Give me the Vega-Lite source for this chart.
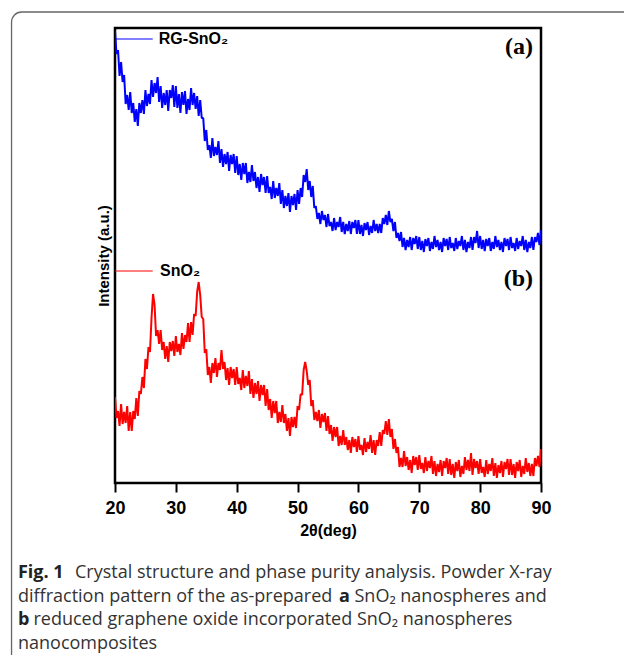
{
"$schema": "https://vega.github.io/schema/vega-lite/v6.json",
"width": 426, "height": 455,
"autosize": {"type": "none"},
"padding": {"left": 115, "top": 28, "right": 83, "bottom": 172},
"background": "white",
"config": {"view": {"stroke": "black", "strokeWidth": 2.5}, "font": "Liberation Sans"},
"datasets": {"xrd": [
{"t":20,"a":452,"b":86},{"t":20.25,"a":429,"b":65},{"t":20.5,"a":433,"b":72},{"t":20.75,"a":407,"b":57},{"t":21,"a":421,"b":79},{"t":21.25,"a":401,"b":59},{"t":21.5,"a":408,"b":71},{"t":21.75,"a":379,"b":60},{"t":22,"a":388,"b":77},{"t":22.25,"a":373,"b":52},
{"t":22.5,"a":391,"b":71},{"t":22.75,"a":370,"b":52},{"t":23,"a":380,"b":72},{"t":23.25,"a":361,"b":64},{"t":23.5,"a":374,"b":85},{"t":23.75,"a":357,"b":67},{"t":24,"a":380,"b":92},{"t":24.25,"a":370,"b":89},{"t":24.5,"a":383,"b":106},{"t":24.75,"a":369,"b":95},
{"t":25,"a":393,"b":124},{"t":25.25,"a":377,"b":114},{"t":25.5,"a":389,"b":136},{"t":25.75,"a":379,"b":131},{"t":26,"a":403,"b":165},{"t":26.25,"a":386,"b":189},{"t":26.5,"a":400,"b":178},{"t":26.75,"a":390,"b":147},{"t":27,"a":406,"b":153},{"t":27.25,"a":381,"b":139},
{"t":27.5,"a":397,"b":153},{"t":27.75,"a":375,"b":133},{"t":28,"a":390,"b":141},{"t":28.25,"a":378,"b":124},{"t":28.5,"a":393,"b":137},{"t":28.75,"a":372,"b":121},{"t":29,"a":393,"b":141},{"t":29.25,"a":385,"b":132},{"t":29.5,"a":398,"b":142},{"t":29.75,"a":376,"b":127},
{"t":30,"a":397,"b":147},{"t":30.25,"a":375,"b":131},{"t":30.5,"a":389,"b":139},{"t":30.75,"a":370,"b":128},{"t":31,"a":391,"b":150},{"t":31.25,"a":378,"b":134},{"t":31.5,"a":392,"b":148},{"t":31.75,"a":369,"b":141},{"t":32,"a":384,"b":160},{"t":32.25,"a":373,"b":141},
{"t":32.5,"a":395,"b":161},{"t":32.75,"a":378,"b":148},{"t":33,"a":390,"b":169},{"t":33.25,"a":374,"b":167},{"t":33.5,"a":387,"b":191},{"t":33.75,"a":367,"b":201},{"t":34,"a":383,"b":188},{"t":34.25,"a":365,"b":166},{"t":34.5,"a":365,"b":164},{"t":34.75,"a":342,"b":130},
{"t":35,"a":353,"b":134},{"t":35.25,"a":333,"b":108},{"t":35.5,"a":338,"b":116},{"t":35.75,"a":325,"b":100},{"t":36,"a":345,"b":120},{"t":36.25,"a":327,"b":110},{"t":36.5,"a":336,"b":125},{"t":36.75,"a":328,"b":106},{"t":37,"a":342,"b":120},{"t":37.25,"a":320,"b":113},
{"t":37.5,"a":334,"b":133},{"t":37.75,"a":316,"b":114},{"t":38,"a":329,"b":121},{"t":38.25,"a":319,"b":103},{"t":38.5,"a":331,"b":115},{"t":38.75,"a":312,"b":98},{"t":39,"a":328,"b":116},{"t":39.25,"a":319,"b":105},{"t":39.5,"a":329,"b":114},{"t":39.75,"a":310,"b":98},
{"t":40,"a":327,"b":116},{"t":40.25,"a":308,"b":99},{"t":40.5,"a":319,"b":105},{"t":40.75,"a":303,"b":93},{"t":41,"a":320,"b":113},{"t":41.25,"a":309,"b":95},{"t":41.5,"a":320,"b":107},{"t":41.75,"a":300,"b":97},{"t":42,"a":311,"b":112},{"t":42.25,"a":301,"b":89},
{"t":42.5,"a":318,"b":104},{"t":42.75,"a":302,"b":85},{"t":43,"a":311,"b":100},{"t":43.25,"a":295,"b":89},{"t":43.5,"a":306,"b":102},{"t":43.75,"a":291,"b":82},{"t":44,"a":309,"b":98},{"t":44.25,"a":298,"b":88},{"t":44.5,"a":306,"b":98},{"t":44.75,"a":290,"b":77},
{"t":45,"a":307,"b":94},{"t":45.25,"a":290,"b":73},{"t":45.5,"a":296,"b":84},{"t":45.75,"a":284,"b":65},{"t":46,"a":302,"b":82},{"t":46.25,"a":285,"b":70},{"t":46.5,"a":295,"b":82},{"t":46.75,"a":287,"b":60},{"t":47,"a":300,"b":71},{"t":47.25,"a":279,"b":61},
{"t":47.5,"a":293,"b":78},{"t":47.75,"a":275,"b":60},{"t":48,"a":287,"b":69},{"t":48.25,"a":277,"b":52},{"t":48.5,"a":290,"b":65},{"t":48.75,"a":271,"b":47},{"t":49,"a":287,"b":66},{"t":49.25,"a":278,"b":56},{"t":49.5,"a":289,"b":66},{"t":49.75,"a":273,"b":55},
{"t":50,"a":293,"b":77},{"t":50.25,"a":279,"b":73},{"t":50.5,"a":295,"b":89},{"t":50.75,"a":286,"b":88},{"t":51,"a":308,"b":113},{"t":51.25,"a":301,"b":121},{"t":51.5,"a":314,"b":112},{"t":51.75,"a":293,"b":98},{"t":52,"a":302,"b":103},{"t":52.25,"a":286,"b":77},
{"t":52.5,"a":297,"b":83},{"t":52.75,"a":275,"b":63},{"t":53,"a":277,"b":71},{"t":53.25,"a":264,"b":62},{"t":53.5,"a":270,"b":73},{"t":53.75,"a":259,"b":55},{"t":54,"a":272,"b":69},{"t":54.25,"a":263,"b":61},{"t":54.5,"a":268,"b":70},{"t":54.75,"a":256,"b":52},
{"t":55,"a":269,"b":67},{"t":55.25,"a":257,"b":49},{"t":55.5,"a":261,"b":58},{"t":55.75,"a":252,"b":42},{"t":56,"a":265,"b":56},{"t":56.25,"a":253,"b":46},{"t":56.5,"a":261,"b":56},{"t":56.75,"a":256,"b":37},{"t":57,"a":266,"b":47},{"t":57.25,"a":251,"b":38},
{"t":57.5,"a":261,"b":53},{"t":57.75,"a":249,"b":38},{"t":58,"a":259,"b":46},{"t":58.25,"a":252,"b":33},{"t":58.5,"a":262,"b":43},{"t":58.75,"a":249,"b":30},{"t":59,"a":261,"b":46},{"t":59.25,"a":255,"b":36},{"t":59.5,"a":263,"b":44},{"t":59.75,"a":249,"b":31},
{"t":60,"a":263,"b":47},{"t":60.25,"a":249,"b":33},{"t":60.5,"a":258,"b":38},{"t":60.75,"a":247,"b":28},{"t":61,"a":260,"b":45},{"t":61.25,"a":253,"b":31},{"t":61.5,"a":261,"b":41},{"t":61.75,"a":248,"b":34},{"t":62,"a":257,"b":48},{"t":62.25,"a":250,"b":30},
{"t":62.5,"a":263,"b":43},{"t":62.75,"a":252,"b":28},{"t":63,"a":259,"b":43},{"t":63.25,"a":250,"b":37},{"t":63.5,"a":259,"b":51},{"t":63.75,"a":250,"b":37},{"t":64,"a":265,"b":53},{"t":64.25,"a":259,"b":49},{"t":64.5,"a":268,"b":62},{"t":64.75,"a":258,"b":48},
{"t":65,"a":272,"b":64},{"t":65.25,"a":261,"b":46},{"t":65.5,"a":264,"b":54},{"t":65.75,"a":252,"b":34},{"t":66,"a":261,"b":44},{"t":66.25,"a":245,"b":30},{"t":66.5,"a":250,"b":36},{"t":66.75,"a":242,"b":16},{"t":67,"a":251,"b":25},{"t":67.25,"a":236,"b":16},
{"t":67.5,"a":245,"b":32},{"t":67.75,"a":233,"b":17},{"t":68,"a":243,"b":26},{"t":68.25,"a":236,"b":13},{"t":68.5,"a":246,"b":23},{"t":68.75,"a":233,"b":10},{"t":69,"a":245,"b":27},{"t":69.25,"a":239,"b":18},{"t":69.5,"a":247,"b":26},{"t":69.75,"a":234,"b":13},
{"t":70,"a":246,"b":28},{"t":70.25,"a":233,"b":14},{"t":70.5,"a":242,"b":20},{"t":70.75,"a":231,"b":10},{"t":71,"a":244,"b":26},{"t":71.25,"a":237,"b":12},{"t":71.5,"a":245,"b":22},{"t":71.75,"a":232,"b":15},{"t":72,"a":241,"b":27},{"t":72.25,"a":234,"b":9},
{"t":72.5,"a":247,"b":22},{"t":72.75,"a":236,"b":7},{"t":73,"a":243,"b":19},{"t":73.25,"a":233,"b":11},{"t":73.5,"a":241,"b":23},{"t":73.75,"a":231,"b":7},{"t":74,"a":245,"b":22},{"t":74.25,"a":237,"b":15},{"t":74.5,"a":244,"b":25},{"t":74.75,"a":233,"b":9},
{"t":75,"a":246,"b":24},{"t":75.25,"a":235,"b":8},{"t":75.5,"a":240,"b":19},{"t":75.75,"a":232,"b":5},{"t":76,"a":245,"b":21},{"t":76.25,"a":234,"b":12},{"t":76.5,"a":242,"b":23},{"t":76.75,"a":237,"b":6},{"t":77,"a":247,"b":17},{"t":77.25,"a":233,"b":9},
{"t":77.5,"a":243,"b":26},{"t":77.75,"a":231,"b":13},{"t":78,"a":241,"b":23},{"t":78.25,"a":235,"b":12},{"t":78.5,"a":246,"b":30},{"t":78.75,"a":233,"b":8},{"t":79,"a":246,"b":24},{"t":79.25,"a":240,"b":15},{"t":79.5,"a":252,"b":22},{"t":79.75,"a":235,"b":9},
{"t":80,"a":247,"b":24},{"t":80.25,"a":234,"b":10},{"t":80.5,"a":243,"b":16},{"t":80.75,"a":232,"b":6},{"t":81,"a":244,"b":23},{"t":81.25,"a":237,"b":9},{"t":81.5,"a":245,"b":19},{"t":81.75,"a":232,"b":12},{"t":82,"a":241,"b":25},{"t":82.25,"a":234,"b":7},
{"t":82.5,"a":247,"b":20},{"t":82.75,"a":236,"b":5},{"t":83,"a":243,"b":18},{"t":83.25,"a":233,"b":10},{"t":83.5,"a":241,"b":22},{"t":83.75,"a":231,"b":6},{"t":84,"a":245,"b":21},{"t":84.25,"a":237,"b":14},{"t":84.5,"a":244,"b":24},{"t":84.75,"a":233,"b":8},
{"t":85,"a":246,"b":24},{"t":85.25,"a":235,"b":8},{"t":85.5,"a":240,"b":19},{"t":85.75,"a":232,"b":5},{"t":86,"a":245,"b":21},{"t":86.25,"a":234,"b":12},{"t":86.5,"a":242,"b":23},{"t":86.75,"a":237,"b":6},{"t":87,"a":247,"b":17},{"t":87.25,"a":233,"b":9},
{"t":87.5,"a":243,"b":25},{"t":87.75,"a":231,"b":11},{"t":88,"a":241,"b":20},{"t":88.25,"a":235,"b":7},{"t":88.5,"a":246,"b":19},{"t":88.75,"a":233,"b":7},{"t":89,"a":246,"b":25},{"t":89.25,"a":241,"b":17},{"t":89.5,"a":250,"b":27},{"t":89.75,"a":238,"b":16},
{"t":90,"a":253,"b":34}
]},
"layer": [
{"data": {"name": "xrd"},
 "mark": {"type": "line", "color": "#0000ff", "strokeWidth": 2, "strokeJoin": "bevel", "clip": true},
 "encoding": {
  "x": {"field": "t", "type": "quantitative", "scale": {"domain": [20, 90], "nice": false, "zero": false},
   "axis": {"values": [20,25,30,35,40,45,50,55,60,65,70,75,80,85,90],
    "labelExpr": "datum.value % 10 === 0 ? datum.label : ''",
    "tickSize": {"condition": {"test": "datum.value % 10 === 0", "value": 9}, "value": 5},
    "tickWidth": 2, "tickColor": "black", "domain": false, "grid": false,
    "labelFont": "Liberation Sans", "labelFontWeight": "bold", "labelFontSize": 18, "labelColor": "black",
    "labelPadding": 7, "labelFlush": false, "labelOverlap": false,
    "title": "2θ(deg)", "titleFont": "Liberation Sans", "titleFontSize": 16, "titleFontWeight": "bold", "titleColor": "black", "titlePadding": 5}},
  "y": {"field": "a", "type": "quantitative", "scale": {"domain": [0, 455], "nice": false, "zero": false},
   "axis": {"title": "Intensity (a.u.)", "ticks": false, "labels": false, "domain": false, "grid": false,
    "titleFont": "Liberation Sans", "titleFontSize": 15, "titleFontWeight": "bold", "titleColor": "black", "titlePadding": 4}}
 }},
{"data": {"name": "xrd"},
 "mark": {"type": "line", "color": "#ff0000", "strokeWidth": 2, "strokeJoin": "bevel", "clip": true},
 "encoding": {"x": {"field": "t", "type": "quantitative"}, "y": {"field": "b", "type": "quantitative"}}},
{"data": {"values": [{}]},
 "mark": {"type": "rule", "color": "#0000ff", "strokeWidth": 1.2},
 "encoding": {"x": {"datum": 20, "type": "quantitative"}, "x2": {"datum": 26.2}, "y": {"datum": 444, "type": "quantitative"}}},
{"data": {"values": [{}]},
 "mark": {"type": "rule", "color": "#ff0000", "strokeWidth": 1.2},
 "encoding": {"x": {"datum": 20, "type": "quantitative"}, "x2": {"datum": 26.2}, "y": {"datum": 212, "type": "quantitative"}}},
{"data": {"values": [{}]},
 "mark": {"type": "text", "text": "RG-SnO₂", "align": "left", "baseline": "middle", "font": "Liberation Sans", "fontWeight": "bold", "fontSize": 16, "color": "black"},
 "encoding": {"x": {"datum": 27.2, "type": "quantitative"}, "y": {"datum": 444, "type": "quantitative"}}},
{"data": {"values": [{}]},
 "mark": {"type": "text", "text": "SnO₂", "align": "left", "baseline": "middle", "font": "Liberation Sans", "fontWeight": "bold", "fontSize": 16, "color": "black"},
 "encoding": {"x": {"datum": 27.4, "type": "quantitative"}, "y": {"datum": 212, "type": "quantitative"}}},
{"data": {"values": [{}]},
 "mark": {"type": "text", "text": "(a)", "align": "right", "baseline": "middle", "font": "Liberation Serif", "fontWeight": "bold", "fontSize": 24, "color": "black"},
 "encoding": {"x": {"datum": 88.7, "type": "quantitative"}, "y": {"datum": 436, "type": "quantitative"}}},
{"data": {"values": [{}]},
 "mark": {"type": "text", "text": "(b)", "align": "right", "baseline": "middle", "font": "Liberation Serif", "fontWeight": "bold", "fontSize": 24, "color": "black"},
 "encoding": {"x": {"datum": 88.7, "type": "quantitative"}, "y": {"datum": 204, "type": "quantitative"}}},
{"data": {"values": [{}]},
 "mark": {"type": "rect", "filled": false, "stroke": "#666666", "strokeWidth": 1.3, "cornerRadius": 10},
 "encoding": {"x": {"datum": 3.0, "type": "quantitative"}, "x2": {"datum": 110}, "y": {"datum": 471, "type": "quantitative"}, "y2": {"datum": -250}}},
{"data": {"values": [{}]},
 "mark": {"type": "text", "text": "Fig. 1", "align": "left", "baseline": "alphabetic", "font": "Open Sans", "fontWeight": "bold", "fontSize": 18, "color": "#222222"},
 "encoding": {"x": {"datum": 4.06, "type": "quantitative"}, "y": {"datum": -95, "type": "quantitative"}}},
{"data": {"values": [{}]},
 "mark": {"type": "text", "text": "Crystal structure and phase purity analysis. Powder X-ray", "align": "left", "baseline": "alphabetic", "font": "Open Sans", "fontSize": 18, "color": "#333333"},
 "encoding": {"x": {"datum": 13.43, "type": "quantitative"}, "y": {"datum": -95, "type": "quantitative"}}},
{"data": {"values": [{}]},
 "mark": {"type": "text", "text": "diffraction pattern of the as-prepared", "align": "left", "baseline": "alphabetic", "font": "Open Sans", "fontSize": 18, "color": "#333333"},
 "encoding": {"x": {"datum": 4.06, "type": "quantitative"}, "y": {"datum": -118.5, "type": "quantitative"}}},
{"data": {"values": [{}]},
 "mark": {"type": "text", "text": "a", "align": "left", "baseline": "alphabetic", "font": "Open Sans", "fontWeight": "bold", "fontSize": 18, "color": "#222222"},
 "encoding": {"x": {"datum": 56.8, "type": "quantitative"}, "y": {"datum": -118.5, "type": "quantitative"}}},
{"data": {"values": [{}]},
 "mark": {"type": "text", "text": "SnO₂ nanospheres and", "align": "left", "baseline": "alphabetic", "font": "Open Sans", "fontSize": 18, "color": "#333333"},
 "encoding": {"x": {"datum": 59.35, "type": "quantitative"}, "y": {"datum": -118.5, "type": "quantitative"}}},
{"data": {"values": [{}]},
 "mark": {"type": "text", "text": "b", "align": "left", "baseline": "alphabetic", "font": "Open Sans", "fontWeight": "bold", "fontSize": 18, "color": "#222222"},
 "encoding": {"x": {"datum": 4.06, "type": "quantitative"}, "y": {"datum": -142, "type": "quantitative"}}},
{"data": {"values": [{}]},
 "mark": {"type": "text", "text": "reduced graphene oxide incorporated SnO₂ nanospheres", "align": "left", "baseline": "alphabetic", "font": "Open Sans", "fontSize": 18, "color": "#333333"},
 "encoding": {"x": {"datum": 6.6, "type": "quantitative"}, "y": {"datum": -142, "type": "quantitative"}}},
{"data": {"values": [{}]},
 "mark": {"type": "text", "text": "nanocomposites", "align": "left", "baseline": "alphabetic", "font": "Open Sans", "fontSize": 18, "color": "#333333"},
 "encoding": {"x": {"datum": 4.06, "type": "quantitative"}, "y": {"datum": -165.5, "type": "quantitative"}}}
]
}
